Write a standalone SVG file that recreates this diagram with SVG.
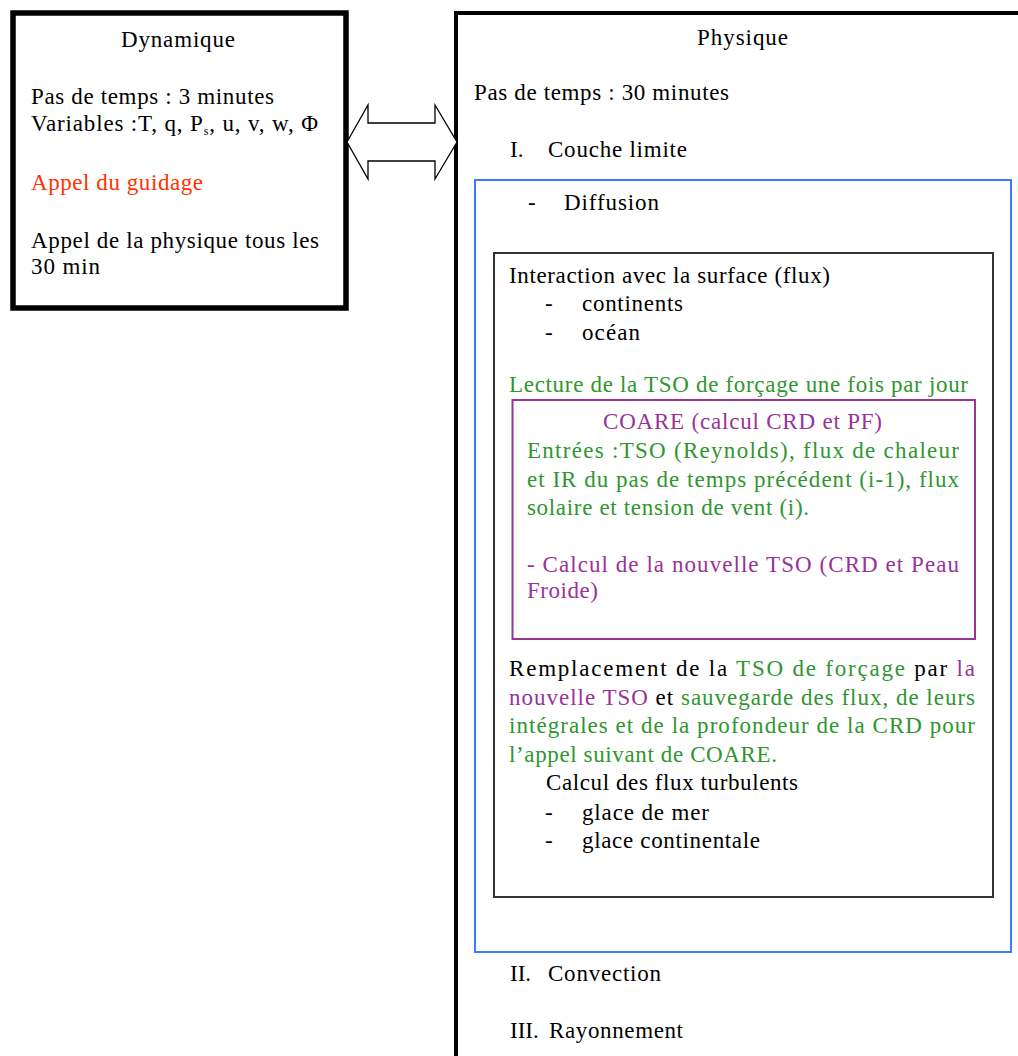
<svg xmlns="http://www.w3.org/2000/svg" width="1018" height="1056" viewBox="0 0 1018 1056">
<style>
text{font-family:"Liberation Serif","Times New Roman",serif;font-size:23px;fill:#000}
.g{fill:#2f962f}
.p{fill:#993399}
.r{fill:#ff3300}
.box{fill:none}
</style>
<rect width="1018" height="1056" fill="#fff"/>
<g id="dynamique">
<rect class="box" x="13" y="13" width="333" height="295" stroke="#000" stroke-width="5.5"/>
<text x="121" y="47" textLength="114" lengthAdjust="spacing">Dynamique</text>
<text x="31" y="104" textLength="243" lengthAdjust="spacing">Pas de temps : 3 minutes</text>
<text x="31" y="131" textLength="287" lengthAdjust="spacing">Variables :T, q, P<tspan font-size="12" dy="4">s</tspan><tspan dy="-4">, u, v, w, Φ</tspan></text>
<text class="r" x="31" y="190" textLength="172" lengthAdjust="spacing">Appel du guidage</text>
<text x="31" y="248" textLength="288" lengthAdjust="spacing">Appel de la physique tous les</text>
<text x="31" y="274" textLength="69" lengthAdjust="spacing">30 min</text>
</g>
<g id="physique">
<rect class="box" x="456" y="13" width="620" height="1100" stroke="#000" stroke-width="4"/>
<text x="697" y="45" textLength="91" lengthAdjust="spacing">Physique</text>
<text x="474" y="100" textLength="255" lengthAdjust="spacing">Pas de temps : 30 minutes</text>
<text x="510" y="157">I.</text>
<text x="548" y="157" textLength="139" lengthAdjust="spacing">Couche limite</text>
<text x="510" y="981">II.</text>
<text x="548" y="981" textLength="113" lengthAdjust="spacing">Convection</text>
<text x="510" y="1038">III.</text>
<text x="549" y="1038" textLength="134" lengthAdjust="spacing">Rayonnement</text>
</g>
<g id="couche-limite">
<rect class="box" x="475" y="180" width="536" height="772" stroke="#3a7bff" stroke-width="2"/>
<text x="528" y="210">-</text>
<text x="564" y="210" textLength="95" lengthAdjust="spacing">Diffusion</text>
</g>
<g id="interaction">
<rect class="box" x="494" y="253" width="499" height="644" stroke="#333" stroke-width="2"/>
<text x="509" y="283" textLength="321" lengthAdjust="spacing">Interaction avec la surface (flux)</text>
<text x="545" y="311">-</text>
<text x="582" y="311" textLength="101" lengthAdjust="spacing">continents</text>
<text x="545" y="340">-</text>
<text x="582" y="340" textLength="58" lengthAdjust="spacing">océan</text>
<text class="g" x="509" y="392" textLength="459" lengthAdjust="spacing">Lecture de la TSO de forçage une fois par jour</text>
<text x="509" y="676" textLength="466" lengthAdjust="spacing">Remplacement de la <tspan class="g">TSO de forçage</tspan> par <tspan class="p">la</tspan></text>
<text x="509" y="705" textLength="466" lengthAdjust="spacing"><tspan class="p">nouvelle TSO</tspan> et <tspan class="g">sauvegarde des flux, de leurs</tspan></text>
<text class="g" x="509" y="733" textLength="466" lengthAdjust="spacing">intégrales et de la profondeur de la CRD pour</text>
<text class="g" x="509" y="762" textLength="268" lengthAdjust="spacing">l’appel suivant de COARE.</text>
<text x="546" y="790" textLength="252" lengthAdjust="spacing">Calcul des flux turbulents</text>
<text x="545" y="820">-</text>
<text x="582" y="820" textLength="127" lengthAdjust="spacing">glace de mer</text>
<text x="545" y="848">-</text>
<text x="582" y="848" textLength="178" lengthAdjust="spacing">glace continentale</text>
</g>
<g id="coare">
<rect class="box" x="512.5" y="400" width="462.5" height="239" stroke="#993399" stroke-width="2"/>
<text class="p" x="603" y="429" textLength="279" lengthAdjust="spacing">COARE (calcul CRD et PF)</text>
<text class="g" x="527" y="458" textLength="432" lengthAdjust="spacing">Entrées :TSO (Reynolds), flux de chaleur</text>
<text class="g" x="527" y="487" textLength="432" lengthAdjust="spacing">et IR du pas de temps précédent (i-1), flux</text>
<text class="g" x="527" y="515" textLength="282" lengthAdjust="spacing">solaire et tension de vent (i).</text>
<text class="p" x="527" y="572" textLength="432" lengthAdjust="spacing">- Calcul de la nouvelle TSO (CRD et Peau</text>
<text class="p" x="527" y="598" textLength="71" lengthAdjust="spacing">Froide)</text>
</g>
<g id="connectors">
<polygon points="347,142 368,105 368,123 435,123 435,105 457,142 435,179 435,161 368,161 368,179" fill="#fff" stroke="#000" stroke-width="1.3"/>
</g>
</svg>
